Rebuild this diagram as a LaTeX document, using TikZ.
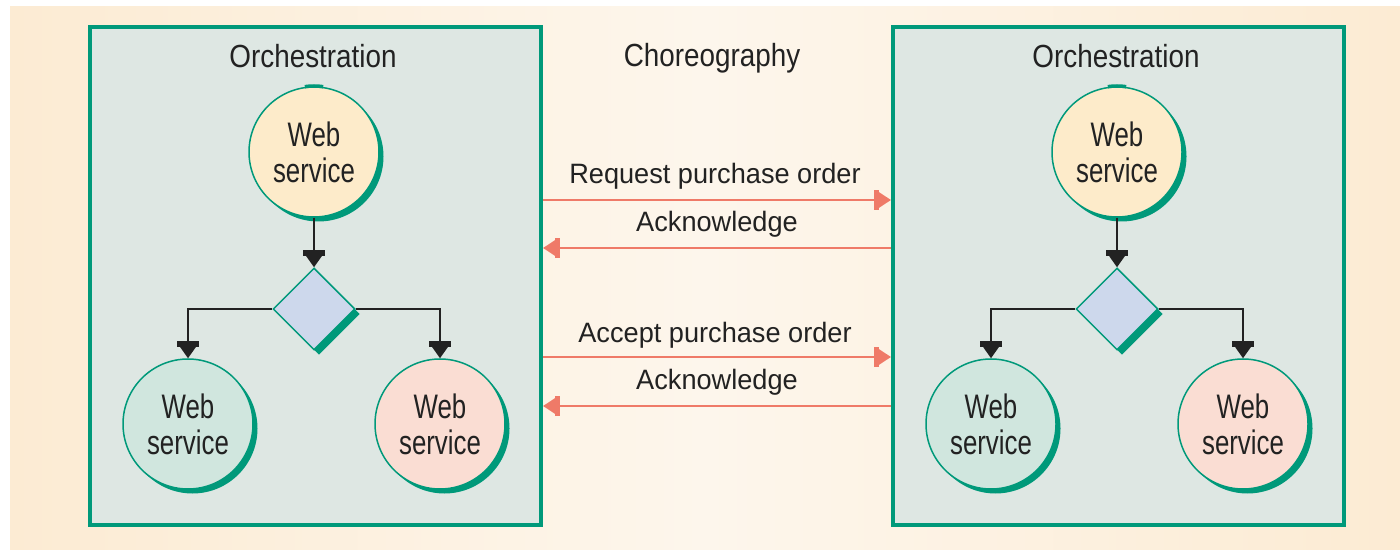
\documentclass[tikz,border=0pt]{standalone}
\usepackage{fontspec}
\usetikzlibrary{shapes.geometric,arrows.meta,shadows}

% Narrow sans faces for the three kinds of labels
\newfontfamily\headfont{Liberation Sans}[FakeStretch=0.87]
\newfontfamily\msgfont{Liberation Sans}[FakeStretch=0.97]
\newfontfamily\wsfont{Liberation Sans}[FakeStretch=0.76]

\definecolor{bgEdge}{HTML}{FCEBD3}
\definecolor{bgMid}{HTML}{FDF6EC}
\definecolor{boxFill}{HTML}{DEE7E3}
\definecolor{tealLine}{HTML}{00997A}
\definecolor{wsYellow}{HTML}{FDEBCA}
\definecolor{wsMint}{HTML}{D0E6DE}
\definecolor{wsPink}{HTML}{FADDD3}
\definecolor{gateBlue}{HTML}{CDD8EC}
\definecolor{msgRed}{HTML}{EF7A68}
\definecolor{ink}{HTML}{222222}

\tikzset{
  orchbox/.style={draw=tealLine, line width=4pt, fill=boxFill,
    rectangle, minimum width=451pt, minimum height=498pt, inner sep=0pt},
  wsnode/.style={circle, draw=tealLine, line width=1.5pt, minimum size=130pt,
    inner sep=0pt, align=center, text=ink,
    font=\wsfont\fontsize{34pt}{36pt}\selectfont,
    drop shadow={shadow xshift=4.5pt, shadow yshift=-4.5pt, fill=tealLine, opacity=1}},
  gate/.style={diamond, aspect=1, draw=tealLine, line width=1.5pt, fill=gateBlue,
    minimum width=82pt, minimum height=82pt, inner sep=0pt,
    drop shadow={shadow xshift=5pt, shadow yshift=-5pt, fill=tealLine, opacity=1}},
  flow/.style={draw=ink, line width=2pt,
    -{Rectangle[length=6pt,width=22pt] Triangle[length=11pt,width=15pt]}},
  msg/.style={draw=msgRed, line width=2.5pt,
    -{Rectangle[length=5pt,width=20pt] Triangle[length=12pt,width=15pt]}},
  headlabel/.style={anchor=base, text=ink, inner sep=0pt,
    font=\headfont\fontsize{32pt}{36pt}\selectfont},
  msglabel/.style={anchor=base, text=ink, inner sep=0pt,
    font=\msgfont\fontsize{28pt}{32pt}\selectfont},
  toptab/.style={draw=tealLine, line width=3.5pt},
}

\begin{document}
\begin{tikzpicture}[x=1pt, y=1pt]
  \useasboundingbox (0,0) rectangle (1400,549);
  % page background
  \fill[white] (0,0) rectangle (1400,549);
  \shade[left color=bgEdge, right color=bgEdge, middle color=bgMid]
    (10,0) rectangle (1400,542);

  % one orchestration panel: box, title, three services and a gateway
  \foreach \dx/\p in {0/L, 803/R} {
    \begin{scope}[xshift=\dx pt]
      \node[orchbox] (box\p) at (315.5,273) {};
      \node[headlabel] (orch\p) at (313,481) {Orchestration};
      \node[wsnode, fill=wsYellow] (wsTop\p) at (314,397) {Web\\service};
      \draw[toptab] ([shift={(98:66pt)}]wsTop\p.center) arc[start angle=98, end angle=82, radius=66pt];
      \node[gate] (gate\p) at (314,240) {};
      \node[wsnode, fill=wsMint] (wsLeft\p) at (188,125) {Web\\service};
      \node[wsnode, fill=wsPink] (wsRight\p) at (440,125) {Web\\service};
      \draw[flow] (wsTop\p.south) -- (gate\p.north);
      \draw[flow] (gate\p.west) -| (wsLeft\p.north);
      \draw[flow] (gate\p.east) -| (wsRight\p.north);
    \end{scope}
  }

  % choreography between the two panels
  \node[headlabel] (choreo) at (712,482) {Choreography};

  \coordinate (m1) at (0,349);
  \coordinate (m2) at (0,301);
  \coordinate (m3) at (0,192);
  \coordinate (m4) at (0,143);

  \node[msglabel] (lblReq) at (715,365) {Request purchase order};
  \node[msglabel] (lblAck1) at (717,317) {Acknowledge};
  \node[msglabel] (lblAcc) at (715,206) {Accept purchase order};
  \node[msglabel] (lblAck2) at (717,159) {Acknowledge};

  \draw[msg] (boxL.east |- m1) -- (boxR.west |- m1);
  \draw[msg] (boxR.west |- m2) -- (boxL.east |- m2);
  \draw[msg] (boxL.east |- m3) -- (boxR.west |- m3);
  \draw[msg] (boxR.west |- m4) -- (boxL.east |- m4);
\end{tikzpicture}
\end{document}
